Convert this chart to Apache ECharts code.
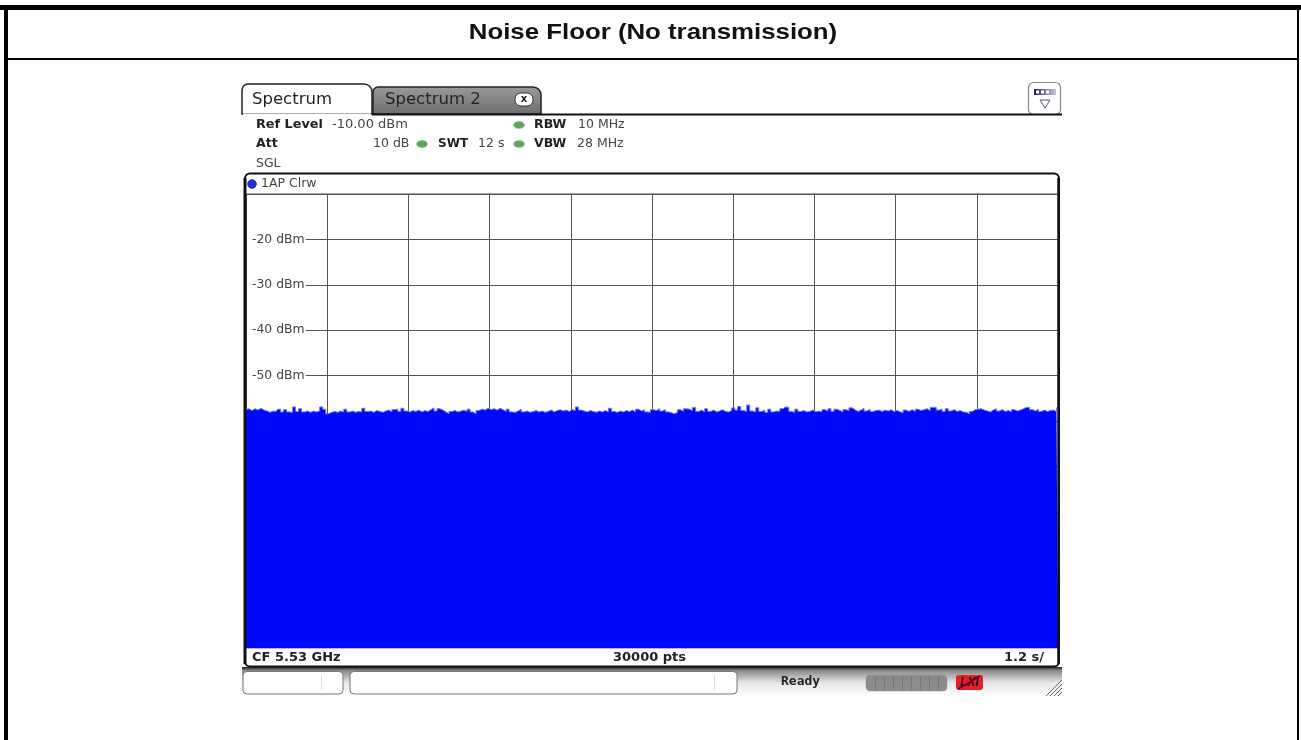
<!DOCTYPE html>
<html>
<head>
<meta charset="utf-8">
<title>Noise Floor</title>
<script src="https://cdn.jsdelivr.net/npm/echarts@6/dist/echarts.min.js"></script>
<style>
  html, body { margin: 0; padding: 0; background: #fff; }
  #main { width: 1301px; height: 740px; }
</style>
</head>
<body>
<div id="main"></div>
<script>
// labelled gridlines, dBm
var yTicks = [-20, -30, -40, -50];
// trace, dBm, left to right across the 12 s sweep
var traceDbm = [
  -57.5,-57.3,-57.7,-57.3,-57.6,-57.2,-57.6,-57.8,-58.1,-57.8,
  -57.9,-57.4,-58.0,-57.5,-58.0,-58.1,-56.9,-57.9,-57.3,-58.0,
  -57.8,-58.1,-57.8,-58.0,-57.8,-56.9,-57.4,-58.4,-58.1,-57.9,
  -58.1,-57.8,-58.0,-57.4,-58.0,-57.8,-58.1,-57.9,-58.0,-57.2,
  -57.9,-57.8,-58.1,-57.7,-57.9,-58.1,-57.8,-57.6,-58.0,-57.5,
  -57.4,-57.9,-57.2,-57.8,-58.0,-57.7,-57.9,-57.6,-58.0,-57.7,
  -57.9,-57.5,-57.1,-57.8,-57.3,-57.6,-58.0,-58.4,-57.9,-57.7,
  -58.0,-57.8,-57.6,-57.9,-57.4,-58.0,-58.4,-57.7,-57.4,-57.6,
  -57.2,-57.5,-57.3,-57.6,-57.2,-57.5,-57.9,-57.4,-58.0,-58.1,
  -57.8,-57.4,-58.0,-57.8,-58.1,-57.9,-57.7,-58.0,-57.8,-58.1,
  -57.9,-57.6,-58.0,-57.7,-57.5,-57.8,-57.6,-57.9,-57.5,-57.7,
  -56.9,-57.6,-57.8,-58.0,-57.7,-57.9,-58.1,-57.8,-58.0,-57.7,
  -58.0,-57.2,-57.9,-58.1,-57.8,-58.0,-57.7,-57.9,-57.6,-58.0,
  -57.4,-57.8,-57.5,-58.0,-58.1,-57.5,-57.7,-57.3,-57.8,-57.5,
  -58.0,-58.2,-58.4,-58.1,-57.5,-57.9,-57.3,-57.4,-57.7,-57.0,
  -57.9,-57.6,-58.0,-57.3,-57.9,-57.6,-58.0,-57.8,-57.5,-57.9,
  -58.0,-57.7,-57.1,-57.6,-56.8,-57.7,-57.9,-56.5,-57.8,-58.0,
  -57.1,-57.9,-57.6,-58.1,-57.4,-58.0,-57.8,-57.9,-57.3,-56.9,
  -57.0,-57.9,-58.1,-57.4,-57.9,-57.7,-58.0,-57.9,-57.6,-58.0,
  -57.8,-58.0,-57.5,-57.8,-57.3,-57.9,-57.4,-57.7,-58.0,-57.5,
  -57.7,-57.1,-57.5,-57.9,-57.6,-57.2,-57.8,-57.4,-57.9,-57.7,
  -57.6,-57.9,-57.6,-57.8,-57.5,-57.9,-57.7,-58.0,-58.2,-57.6,
  -57.9,-57.5,-57.9,-57.4,-57.7,-57.5,-57.3,-57.7,-57.0,-57.0,
  -57.6,-57.4,-57.9,-57.3,-57.8,-57.5,-57.9,-57.7,-58.0,-58.1,
  -58.4,-57.9,-57.5,-57.4,-57.3,-57.6,-57.8,-58.0,-57.6,-57.3,
  -57.8,-57.5,-57.9,-57.7,-58.0,-57.5,-57.8,-57.6,-57.3,-57.0,
  -57.0,-57.5,-57.8,-57.4,-57.9,-57.6,-57.9,-57.7,-57.6,-57.9,-57.1
];
// sweep time per point, seconds
var sweepSeconds = traceDbm.map(function (v, i) {
  return i * 12 / (traceDbm.length - 1);
});
var traceData = traceDbm.map(function (v, i) {
  return [sweepSeconds[i], v];
});

var sans = '"DejaVu Sans"';

function txt(text, x, y, font, fill, align) {
  return { type: 'text', z: 20, silent: true, style: {
    text: text, x: x, y: y, font: font, fill: fill || '#222',
    textAlign: align || 'left', textVerticalAlign: 'middle'
  }};
}
function box(x, y, w, h, r, stroke, fill, lw) {
  return { type: 'rect', z: 15, silent: true, shape: { x: x, y: y, width: w, height: h, r: r },
    style: { stroke: stroke, fill: fill || 'none', lineWidth: lw || 1 } };
}
function led(x, y) {
  return { type: 'ellipse', z: 20, silent: true, shape: { cx: x, cy: y, rx: 5.5, ry: 3.5 },
    style: { fill: '#5fa55f', stroke: '#8fc08f', lineWidth: 0.5 } };
}
function seg(x1, y1, x2, y2, color, lw, z) {
  return { type: 'line', z: z || 16, silent: true, shape: { x1: x1, y1: y1, x2: x2, y2: y2 },
    style: { stroke: color, lineWidth: lw || 1 } };
}

var chrome = [
  // page frame and title row
  seg(0, 7.5, 1301, 7.5, '#000', 5),
  seg(6, 5, 6, 740, '#000', 4),
  seg(1298, 5, 1298, 740, '#000', 2),
  seg(6, 59, 1298, 59, '#000', 2),
  { type: 'text', z: 20, silent: true, x: 653, y: 33, scaleX: 1.2, style: {
    text: 'Noise Floor (No transmission)', x: 0, y: 0, font: 'bold 21.5px "Liberation Sans"',
    fill: '#111', textAlign: 'center', textVerticalAlign: 'middle'
  }},

  // tabs
  { type: 'rect', z: 15, silent: true, shape: { x: 373, y: 87, width: 168, height: 27, r: [5, 8, 0, 0] },
    style: { stroke: '#222', lineWidth: 1.5, fill: new echarts.graphic.LinearGradient(0, 0, 0, 1, [
      { offset: 0, color: '#9a9a9a' }, { offset: 1, color: '#6e6e6e' }]) } },
  { type: 'rect', z: 16, silent: true, shape: { x: 242, y: 84, width: 130, height: 30, r: [6, 8, 0, 0] },
    style: { stroke: '#222', lineWidth: 1.5, fill: '#fff' } },
  seg(243, 114.5, 371, 114.5, '#fff', 2, 17),
  seg(372, 114.5, 1062, 114.5, '#111', 2),
  txt('Spectrum', 252, 99.5, '16.5px ' + sans, '#222'),
  txt('Spectrum 2', 385, 99.5, '16.5px ' + sans, '#222'),
  box(515, 93, 18, 13, 6, '#333', '#fff', 1),
  txt('x', 524, 99, 'bold 10px ' + sans, '#222', 'center'),

  // menu button
  box(1028.5, 82.5, 32, 32, 5, '#888', '#fff', 1.2),
  { type: 'rect', z: 17, silent: true, shape: { x: 1034, y: 89, width: 22, height: 6 },
    style: { fill: new echarts.graphic.LinearGradient(0, 0, 1, 0, [
      { offset: 0, color: '#23235a' }, { offset: 1, color: '#c8c8d8' }]) } },
  { type: 'polygon', z: 17, silent: true, shape: { points: [[1040, 100], [1050, 100], [1045, 108]] },
    style: { stroke: '#555577', fill: '#fff', lineWidth: 1 } },

  // settings block
  txt('Ref Level', 256, 125, 'bold 12.8px ' + sans),
  txt('-10.00 dBm', 332, 125, '13px ' + sans, '#444'),
  led(519, 125),
  txt('RBW', 534, 125, 'bold 12.5px ' + sans),
  txt('10 MHz', 578, 125, '12.5px ' + sans, '#444'),
  txt('Att', 256, 144, 'bold 12.5px ' + sans),
  txt('10 dB', 373, 144, '12.5px ' + sans, '#444'),
  led(422, 144),
  txt('SWT', 438, 144, 'bold 12px ' + sans),
  txt('12 s', 478, 144, '12.5px ' + sans, '#444'),
  led(519, 144),
  txt('VBW', 534, 144, 'bold 12.5px ' + sans),
  txt('28 MHz', 577, 144, '12.5px ' + sans, '#444'),
  txt('SGL', 256, 164, '12.5px ' + sans, '#444'),

  // trace window
  txt('1AP Clrw', 261, 184, '12.5px ' + sans, '#444'),
  { type: 'circle', z: 20, silent: true, shape: { cx: 252, cy: 184, r: 4.5 },
    style: { fill: '#1c2be0', stroke: '#333', lineWidth: 0.5 } },
  seg(246, 194, 1058, 194, '#555', 1),
  seg(246, 648.5, 1058, 648.5, '#a8b4f0', 1, 12),
  box(245, 173.5, 814, 493, 5, '#111', 'none', 2),
  seg(245, 178, 245, 664, '#111', 3),
  seg(1058.5, 178, 1058.5, 664, '#111', 2.5),
  txt('CF 5.53 GHz', 252, 657.5, 'bold 13px ' + sans, '#222'),
  txt('30000 pts', 613, 657.5, 'bold 13px ' + sans, '#222'),
  txt('1.2 s/', 1004, 657.5, 'bold 13px ' + sans, '#222'),

  // status bar
  { type: 'rect', z: 5, silent: true, shape: { x: 242, y: 667, width: 820, height: 29 },
    style: { fill: new echarts.graphic.LinearGradient(0, 0, 0, 1, [
      { offset: 0, color: '#222' }, { offset: 0.12, color: '#888' }, { offset: 0.55, color: '#e8e8e8' }, { offset: 1, color: '#fff' }]) } },
  box(243, 671.5, 100, 22.5, 4, '#777', '#fff', 1),
  seg(321.5, 675, 321.5, 690, '#ddd', 1),
  box(350, 671.5, 387, 22.5, 4, '#777', '#fff', 1),
  seg(714.5, 675, 714.5, 690, '#ddd', 1),
  txt('Ready', 781, 682, 'bold 13px "DejaVu Sans Mono"', '#222'),
  box(866, 675, 81, 16, 4, '#999', '#8c8c8c', 0.5),
  { type: 'rect', z: 20, silent: true, shape: { x: 956, y: 675, width: 27, height: 15, r: 3 },
    style: { fill: '#e0202a' } },
  txt('LXI', 969.5, 682.5, 'italic bold 12px "Liberation Sans"', '#3a0a14', 'center'),
  seg(958, 689, 980, 676, '#5a0a18', 1.5, 21)
];
// cells in the menu button icon
[1036, 1041, 1046].forEach(function (x) {
  chrome.push({ type: 'rect', z: 18, silent: true, shape: { x: x, y: 90.5, width: 3, height: 3 }, style: { fill: '#fff' } });
});
// separators on the busy indicator
[875, 884, 893, 902, 911, 920, 929, 938].forEach(function (x) {
  chrome.push(seg(x + 0.5, 676, x + 0.5, 690, '#777', 1, 17));
});
// resize grip
[1046, 1050, 1054, 1058].forEach(function (x) {
  chrome.push(seg(x, 696, 1062, 696 - (1062 - x), '#666', 1, 17));
});

var chart = echarts.init(document.getElementById('main'));
chart.setOption({
  animation: false,
  backgroundColor: '#fff',
  graphic: chrome,
  grid: { left: 246, right: 243, top: 194, height: 454, containLabel: false },
  xAxis: {
    type: 'value', min: 0, max: 12, interval: 1.2,
    axisLine: { show: false }, axisTick: { show: false }, axisLabel: { show: false },
    splitLine: { show: true, lineStyle: { color: '#555', width: 1 } }
  },
  yAxis: {
    type: 'value', min: -110, max: -10, interval: 10,
    axisLine: { show: false }, axisTick: { show: false },
    splitLine: { show: true, lineStyle: { color: '#555', width: 1 } },
    axisLabel: {
      inside: true, margin: 1, color: '#444', fontFamily: 'DejaVu Sans', fontSize: 12.4,
      backgroundColor: '#fff', padding: [0, 1, 0, 5],
      formatter: function (v) { return yTicks.indexOf(v) >= 0 ? v + ' dBm' : ''; }
    }
  },
  series: [{
    type: 'line',
    data: traceData,
    step: 'middle',
    showSymbol: false,
    symbol: 'none',
    lineStyle: { color: '#6a76f5', width: 1 },
    areaStyle: { color: '#0008fa', opacity: 1, origin: 'start' }
  }]
});
</script>
</body>
</html>
